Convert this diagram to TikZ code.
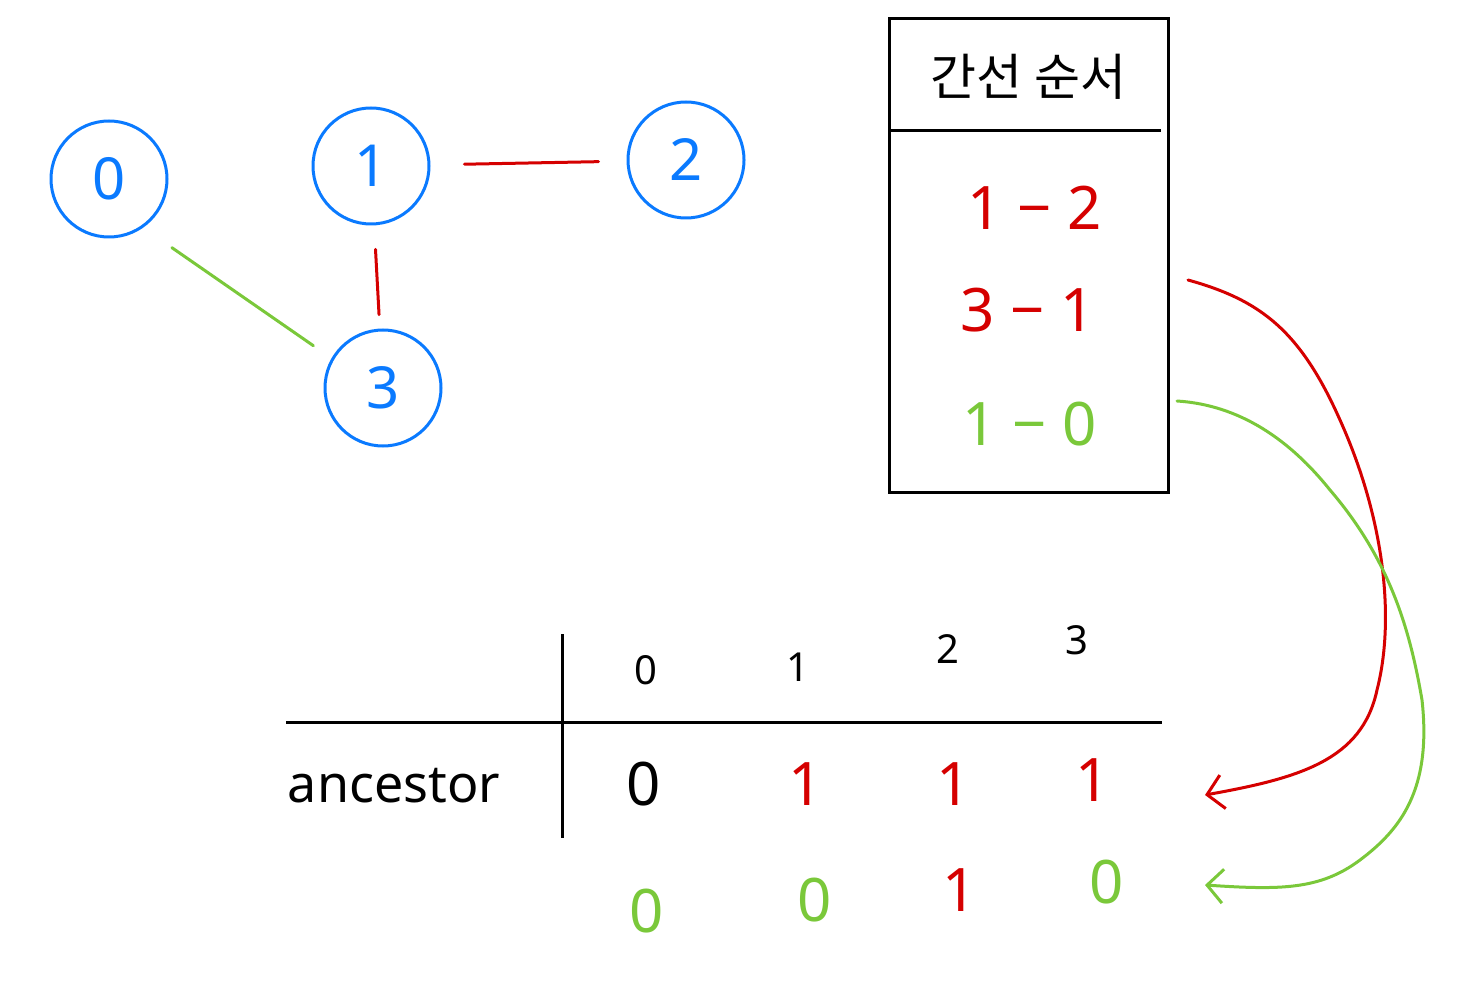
\documentclass[tikz,border=0pt]{standalone}
\usepackage{fontspec}
\setmainfont{Noto Sans}
\newfontfamily\kofont{Noto Sans CJK KR}
\usetikzlibrary{arrows.meta}
\definecolor{cblue}{RGB}{10,122,255}
\definecolor{cred}{RGB}{213,0,0}
\definecolor{cgreen}{RGB}{122,200,58}
\tikzset{
  vert/.style={circle,draw=cblue,line width=1.5pt,minimum size=58pt,inner sep=0pt,text=cblue,font=\fontsize{29}{30}\selectfont},
  edge/.style={line width=1.5pt,line cap=round},
  ink/.style={line width=1.5pt},
  rowtxt/.style={inner sep=0pt,font=\fontsize{30}{32}\selectfont},
  coltxt/.style={inner sep=0pt,font=\fontsize{20}{22}\selectfont},
  flow/.style={line width=1.5pt,line cap=round,-{Straight Barb[length=8pt,width=17pt,line width=1.5pt]}}
}
\begin{document}
\begin{tikzpicture}[x=0.5pt,y=-0.5pt]
\useasboundingbox (0,0) rectangle (1473,1000);
% graph
\node[vert] (n0) at (109,179) {0};
\node[vert] (n1) at (371,166) {1};
\node[vert] (n2) at (686,160) {2};
\node[vert] (n3) at (383,388) {3};
\draw[edge,cred,shorten <=17pt,shorten >=14pt] (n1) -- (n2);
\draw[edge,cred,shorten <=12pt,shorten >=7pt] (n1) -- (n3);
\draw[edge,cgreen,shorten <=17.5pt,shorten >=11pt] (n0.-55) -- (n3.150);
% edge order box
\node[draw,ink,minimum width=139.5pt,minimum height=236.5pt,inner sep=0pt] (box) at (1028.5,255.5) {};
\coordinate (hl) at (889,131);
\coordinate (hr) at (1161,131);
\draw[ink] (hl) -- (hr);
\node[inner sep=0pt,font=\kofont\fontsize{25}{27}\selectfont] (head) at (1028,77) {간선\hspace{6pt}순서};
\node[rowtxt,text=cred] (e1) at (1035,208) {1 − 2};
\node[rowtxt,text=cred] (e2) at (1028,310) {3 − 1};
\node[rowtxt,text=cgreen] (e3) at (1030,424) {1 − 0};
% table
\coordinate (vt) at (562,634);
\coordinate (vb) at (562,838);
\coordinate (hL) at (286,722);
\coordinate (hR) at (1162,722);
\draw[ink] (vt) -- (vb);
\draw[ink] (hL) -- (hR);
\node[coltxt] (c0) at (646,670) {0};
\node[coltxt] (c1) at (798,667) {1};
\node[coltxt] (c2) at (948,649) {2};
\node[coltxt] (c3) at (1077,640) {3};
\node[inner sep=0pt,font=\fontsize{26}{28}\selectfont] (anc) at (394,786) {ancestor};
\node[rowtxt] (a0) at (644,784) {0};
\node[rowtxt,text=cred] (a1) at (806,784) {1};
\node[rowtxt,text=cred] (a2) at (954,784) {1};
\node[rowtxt,text=cred] (a3) at (1093,780) {1};
\node[rowtxt,text=cgreen] (b0) at (647,911) {0};
\node[rowtxt,text=cgreen] (b1) at (815,900) {0};
\node[rowtxt,text=cred] (b2) at (960,890) {1};
\node[rowtxt,text=cgreen] (b3) at (1107,882) {0};
% arrows
\coordinate (rs) at (1188,280);
\coordinate (re) at (1205,795);
\coordinate (gs) at (1177,401);
\coordinate (ge) at (1205,885);
\draw[flow,cred] (rs) .. controls (1260,300) and (1300,330) .. (1340,420)
  .. controls (1385,520) and (1395,620) .. (1377,690)
  .. controls (1362,760) and (1300,778) .. (re);
\draw[flow,cgreen] (gs) .. controls (1240,405) and (1290,440) .. (1330,490)
  .. controls (1390,560) and (1410,630) .. (1422,700)
  .. controls (1432,790) and (1400,830) .. (1360,860)
  .. controls (1320,890) and (1280,890) .. (ge);
\end{tikzpicture}
\end{document}
